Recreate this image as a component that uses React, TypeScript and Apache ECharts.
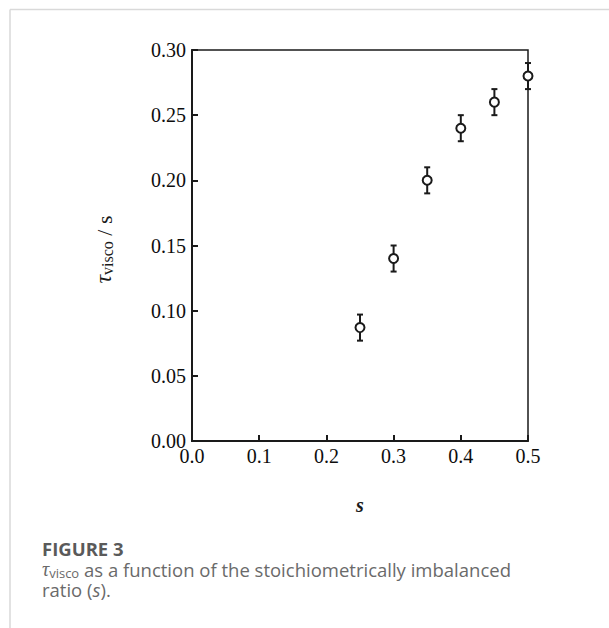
import React, { useEffect, useRef } from "react";
import * as echarts from "echarts";

const sValues = [0.25, 0.3, 0.35, 0.4, 0.45, 0.5];
const tauValues = [0.087, 0.14, 0.2, 0.24, 0.26, 0.28];
const errValues = [0.01, 0.01, 0.01, 0.01, 0.01, 0.01];
const xTicks = [0, 0.1, 0.2, 0.3, 0.4, 0.5];
const yTicks = [0, 0.05, 0.1, 0.15, 0.2, 0.25, 0.3];

const SERIF = "'Liberation Serif', 'Times New Roman', serif";
const SANS = "'Open Sans', 'Noto Sans', sans-serif";

export default function App() {
  const ref = useRef<HTMLDivElement>(null);

  useEffect(() => {
    if (!ref.current) return;
    const chart = echarts.init(ref.current, null, { renderer: "svg" });
    const points = sValues.map((s, i) => [s, tauValues[i]]);
    const bars = sValues.map((s, i) => [s, tauValues[i] - errValues[i], tauValues[i] + errValues[i]]);

    chart.setOption({
      animation: false,
      backgroundColor: "#ffffff",
      grid: {
        left: 192,
        top: 50,
        right: 81,
        bottom: 187,
        show: true,
        borderColor: "#1a1a1a",
        borderWidth: 1.5,
        backgroundColor: "transparent",
      },
      xAxis: {
        type: "value",
        min: xTicks[0],
        max: xTicks[xTicks.length - 1],
        interval: 0.1,
        name: "s",
        nameLocation: "middle",
        nameGap: 54,
        nameTextStyle: {
          fontFamily: SERIF,
          fontStyle: "italic",
          fontWeight: "bold",
          fontSize: 20,
          color: "#1a1a1a",
        },
        axisLine: { show: true, lineStyle: { color: "#1a1a1a", width: 2 } },
        axisTick: { show: true, inside: true, length: 6, lineStyle: { color: "#1a1a1a", width: 2 } },
        splitLine: { show: false },
        axisLabel: {
          fontFamily: SERIF,
          fontSize: 20,
          color: "#0d0d0d",
          margin: 5,
          formatter: (v: number) => v.toFixed(1),
        },
      },
      yAxis: {
        type: "value",
        min: yTicks[0],
        max: yTicks[yTicks.length - 1],
        interval: 0.05,
        name: "{t|τ}{sub|visco}{n| / s}",
        nameLocation: "middle",
        nameRotate: 90,
        nameGap: 77,
        nameTextStyle: {
          padding: [0, 8, 0, 0],
          rich: {
            t: { fontFamily: SERIF, fontStyle: "italic", fontSize: 24, color: "#1a1a1a", lineHeight: 26, verticalAlign: "bottom" },
            sub: { fontFamily: SERIF, fontSize: 16, color: "#1a1a1a", lineHeight: 16, verticalAlign: "bottom" },
            n: { fontFamily: SERIF, fontSize: 22, color: "#1a1a1a", lineHeight: 26, verticalAlign: "bottom" },
          },
        },
        axisLine: { show: true, lineStyle: { color: "#1a1a1a", width: 2 } },
        axisTick: { show: true, inside: true, length: 6, lineStyle: { color: "#1a1a1a", width: 2 } },
        splitLine: { show: false },
        axisLabel: {
          fontFamily: SERIF,
          fontSize: 20,
          color: "#0d0d0d",
          margin: 6,
          formatter: (v: number) => v.toFixed(2),
        },
      },
      series: [
        {
          type: "custom",
          data: bars,
          z: 2,
          renderItem: (params: any, api: any) => {
            const x = api.value(0);
            const lo = api.coord([x, api.value(1)]);
            const hi = api.coord([x, api.value(2)]);
            const cap = 3;
            const style = { stroke: "#1a1a1a", lineWidth: 2 };
            return {
              type: "group",
              children: [
                { type: "line", shape: { x1: lo[0], y1: lo[1], x2: hi[0], y2: hi[1] }, style },
                { type: "line", shape: { x1: lo[0] - cap, y1: lo[1], x2: lo[0] + cap, y2: lo[1] }, style },
                { type: "line", shape: { x1: hi[0] - cap, y1: hi[1], x2: hi[0] + cap, y2: hi[1] }, style },
              ],
            };
          },
        },
        {
          type: "scatter",
          data: points,
          z: 3,
          symbol: "circle",
          symbolSize: 9,
          itemStyle: { color: "#ffffff", borderColor: "#1a1a1a", borderWidth: 2, opacity: 1 },
        },
      ],
      graphic: [
        {
          type: "line",
          silent: true,
          shape: { x1: 10, y1: 9.5, x2: 609, y2: 9.5 },
          style: { stroke: "#d9d9d9", lineWidth: 1.5 },
        },
        {
          type: "line",
          silent: true,
          shape: { x1: 10, y1: 9.5, x2: 10, y2: 628 },
          style: { stroke: "#d9d9d9", lineWidth: 1.5 },
        },
        {
          type: "text",
          left: 42,
          top: 538,
          style: {
            text: "FIGURE 3",
            fontFamily: SANS,
            fontWeight: "bold",
            fontSize: 18.5,
            lineHeight: 20,
            fill: "#5a5a5a",
          },
        },
        {
          type: "text",
          left: 42,
          top: 559,
          style: {
            text: "{t|τ}{sub|visco}{n| as a function of the stoichiometrically imbalanced}",
            rich: {
              t: { fontFamily: SERIF, fontStyle: "italic", fontSize: 20, fill: "#6a6a6a", lineHeight: 20, verticalAlign: "bottom" },
              sub: { fontFamily: SANS, fontSize: 13, fill: "#6a6a6a", lineHeight: 10, verticalAlign: "bottom" },
              n: { fontFamily: SANS, fontSize: 18.5, fill: "#6a6a6a", lineHeight: 20, verticalAlign: "bottom" },
            },
          },
        },
        {
          type: "text",
          left: 42,
          top: 580,
          style: {
            text: "{n|ratio (}{i|s}{n|).}",
            rich: {
              n: { fontFamily: SANS, fontSize: 18.5, fill: "#6a6a6a", lineHeight: 20 },
              i: { fontFamily: SANS, fontStyle: "italic", fontSize: 18.5, fill: "#6a6a6a", lineHeight: 20 },
            },
          },
        },
      ],
    });

    return () => chart.dispose();
  }, []);

  return (
    <div
      ref={ref}
      style={{ position: "absolute", left: 0, top: 0, width: 609, height: 628 }}
    />
  );
}
